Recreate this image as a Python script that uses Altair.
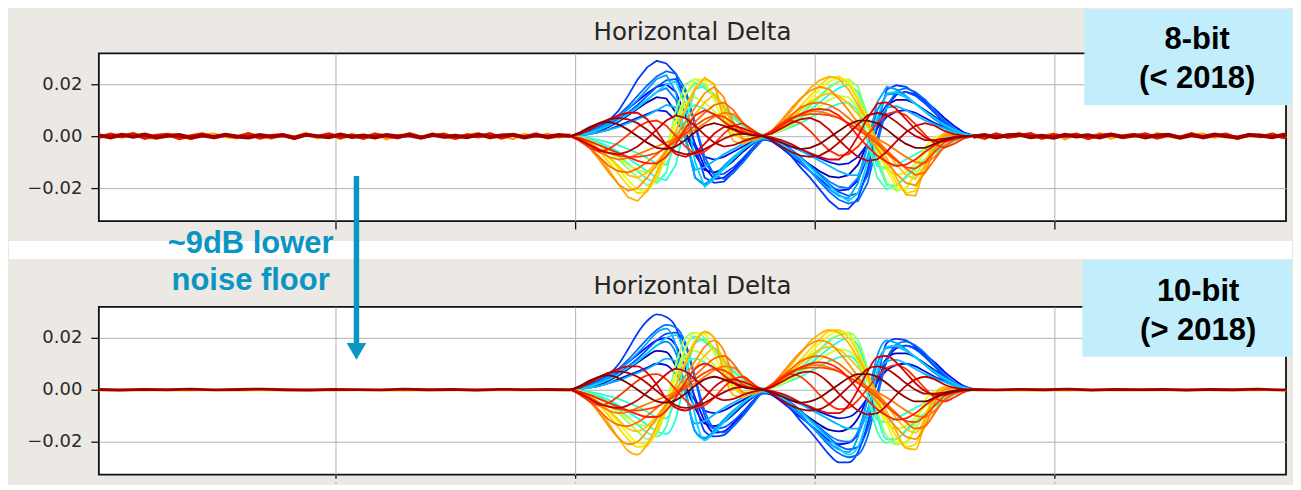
import altair as alt
import pandas as pd

# ---------------- data (trace values in units of 1e-3) ----------------
TITLE = "Horizontal Delta"
Y_TICKS = [-0.02, 0.0, 0.02]
X_TICKS = [1000, 2000, 3000, 4000]
X_DOMAIN = [12, 4966]
Y_DOMAIN = [-0.0327, 0.0319]

TRACE_X0 = 1980      # first sample of the active region
TRACE_STEP = 40      # sample spacing of the active region
LEFT_END = 1980      # quiet region before the pulse ends here
RIGHT_START = 3660   # quiet region after the pulse starts here

# traces ordered along the jet colour map (blue first, dark red last = on top)
TRACE_COLORS = ["#0000b4", "#0010e0", "#0000ff", "#0038ff", "#0054ff", "#006bff", "#0086ff",
                "#009eff", "#00b8ff", "#00d1ff", "#19ffde", "#2effc8", "#42ffb5", "#94ff63",
                "#c8ff30", "#e6ff11", "#ffd900", "#ffc400", "#ffb300", "#ff8e00", "#ff7a00",
                "#ff6800", "#ff4200", "#ff3000", "#ff1c00", "#dc0000", "#c00000", "#ae0000", "#800000"]

T01 = [0, 0.3, 1, 2, 3.5, 5.5, 8, 10.5, 13, 15, 14.5, 9, 1, -7, -13, -14, -12.5, -9.5, -6, -3, -0.5,
       -1.5, -3.5, -6, -8.5, -11, -13.5, -15.5, -16, -15, -11, -3, 6, 12, 14, 14, 12.5, 10, 7.5, 5, 2.5, 1, 0.2]
T02 = [0, 0.3, 0.8, 1.5, 2.5, 4, 5.5, 7, 8.5, 10, 9.5, 6, 1, -4, -8, -9, -8, -6, -4, -2, -0.5,
       -1, -2.5, -4, -5.5, -7, -8.5, -10, -11, -10.5, -8, -3, 3, 7.5, 9.5, 10, 9, 7, 5, 3.5, 2, 0.7, 0.1]
T03 = [0, 0.5, 1.5, 3, 5, 7.5, 10.5, 13.5, 16.5, 19, 20, 17, 8, -3, -12, -16.5, -16, -13, -9, -4.5, -1,
       -2, -4.5, -7.5, -10.5, -13.5, -16.5, -19.5, -21, -20.5, -17, -8, 3, 11.5, 16, 17, 16, 13.5, 10.5, 7, 4, 1.5, 0.3]
T04 = [0, 0.8, 2, 3.8, 6, 9.7, 15.5, 21.8, 26.5, 29, 28, 24, 12, -4, -16, -18, -17.5, -14, -10, -5.5, -1.5,
       -1.5, -4, -7.5, -12, -16, -20.5, -25, -28, -28, -24, -13, 4, 18, 19.6, 19, 16.5, 13, 9, 5, 2, 0.5, 0]
T05 = [0, 0.5, 1.5, 3, 4.5, 6.5, 9, 12, 15.5, 19, 21.5, 22, 17, 4, -10, -15, -14.5, -12, -8.5, -4.5, -1,
       -1, -2.5, -5, -8, -11.5, -15, -18.5, -21.5, -23, -22, -15, -1, 12, 16.5, 17, 15.5, 12.5, 9, 5.5, 2.5, 0.8, 0.1]
T06 = [0, 0.6, 1.8, 3.5, 5.5, 8, 11.5, 15.5, 19.5, 23, 25, 24, 18, 5, -8, -15, -16.5, -14, -10, -5.5, -1.5,
       -1, -3, -6, -9.5, -13.5, -17.5, -21.5, -24.5, -26, -25, -18, -3, 11, 17.5, 18.5, 17, 14, 10, 6, 3, 1, 0.2]
T07 = [0, 0.4, 1.2, 2.5, 4, 6, 8.5, 11, 14, 17, 18.5, 14, 0, -16, -18.5, -16, -12.5, -9, -5.5, -2.5, -0.5,
       -1.2, -3, -5.5, -8.5, -11.5, -14.5, -17.5, -19.5, -20, -16, -4, 10, 16, 16.5, 15, 12.5, 9.5, 6.5, 4, 2, 0.6, 0.1]
T08 = [0, 0.5, 1.5, 3, 5, 7.5, 10.5, 14, 18, 22, 23.5, 17, 0, -16, -19, -15.5, -11.5, -8, -5, -2.5, -0.8,
       -1.5, -3.5, -6.5, -10, -13.5, -17, -20.5, -23, -24, -18, -3, 13, 19, 18, 15.5, 12.5, 9.5, 6.5, 4, 2, 0.7, 0.1]
T09 = [0, 0.3, 0.8, 1.5, 2.5, 3.5, 5, 6.5, 8, 10, 12, 11, -2, -13, -12, -9.5, -7, -5, -3, -1.5, -0.3,
       -0.8, -2, -3.5, -5.5, -7.5, -9.5, -11.5, -13.5, -15, -15, -8, 6, 11, 11.5, 10, 8, 6, 4.5, 3, 1.5, 0.5, 0.1]
T10 = [0, 0.4, 1.2, 2.5, 4, 6, 8.5, 11, 14, 17, 20, 21, 12, -10, -19.5, -16.5, -12.5, -8.5, -5, -2.5, -0.8,
       -1.2, -3, -5.5, -8.5, -12, -15.5, -19, -22.5, -25, -22, -10, 7, 16.5, 17, 15, 12.5, 9.5, 7, 4.5, 2.5, 1, 0.2]
T11 = [0, -0.4, -1.2, -2.5, -4, -6, -8.5, -11, -13.5, -16, -17, -11, 5, 18, 19.5, 16, 11.5, 7.5, 4, 2, 0.5,
       1, 2.5, 4.5, 7, 10, 13, 16, 18.5, 20, 17, 6, -10, -19, -19, -15.5, -12, -9, -6.5, -4, -2, -0.7, -0.1]
T12 = [0, -0.3, -0.8, -1.5, -2.5, -3.5, -5, -6.5, -8.5, -10.5, -11, -3, 10, 12, 10.5, 8, 6, 4, 2.5, 1, 0.2,
       0.8, 2, 3.5, 5, 7, 9, 11, 12.5, 13, 10, -2, -11.5, -12.5, -11, -9, -7, -5, -3.5, -2, -1, -0.3, 0]
T13 = [0, -0.5, -1.5, -3, -5, -7.5, -10.5, -13.5, -16.5, -18, -14, 1, 16, 20.5, 18.5, 15, 11, 7, 4, 1.8, 0.5,
       1.2, 3, 5.5, 8.5, 12, 15.5, 19, 21, 21.5, 14, -2, -16, -20.5, -19, -16, -12.5, -9, -6, -3.5, -1.8, -0.6, -0.1]
T14 = [0, -0.6, -1.8, -3.5, -6, -9, -12.5, -16, -19, -17, -6, 10, 20, 22, 20, 15, 10, 5.5, 2.5, 0.8, 0,
       1, 2.5, 5, 8, 11.5, 15, 18.5, 21, 22, 19, 8, -8, -18, -21, -20, -15, -9, -4.5, -2, -0.8, -0.2, 0]
T15 = [0, -0.6, -1.8, -3.5, -6, -8.5, -11, -13, -14, -12, -5, 5, 13, 15, 13, 9.5, 6, 3, 1.2, 0.3, 0,
       0.8, 2.2, 4, 6.5, 9, 11.5, 14, 15.5, 15, 11, 3, -6, -13, -15, -14, -10.5, -6.5, -3.5, -1.5, -0.5, -0.1, 0]
T16 = [0, -0.8, -2.5, -5, -8.5, -12.5, -17, -20.5, -21, -15, -5, 6, 16, 22, 21.5, 14, 5, 0.5, -1, -0.5, 0,
       1.2, 3.5, 6.5, 10, 14, 18, 21, 22.5, 21.5, 15, 6, -4, -13, -20, -21, -13, -4, -0.5, 0.5, 0.3, 0, 0]
T17 = [0, -1, -3, -6, -10, -14.5, -19, -22, -21.5, -16, -8, 2, 11, 19, 22, 20, 9, 1, -1.5, -1, -0.2,
       1.5, 4, 7.5, 11.5, 15.5, 19.5, 22.5, 23, 20, 14, 6, -3, -11, -18, -22, -21, -10, -2, 0.5, 0.5, 0.2, 0]
T18 = [0, -0.8, -2.5, -5, -8, -11.5, -15, -16, -14, -10, -5.5, -1, 3.5, 8.5, 13, 16, 12, 3, -1.5, -1, -0.2,
       1.2, 3.5, 6.5, 10, 13, 15.5, 16.5, 15.5, 12.5, 8.5, 4, -1, -6, -11, -15, -16.5, -11, -3, 0.5, 0.5, 0.2, 0]
T19 = [0, -1.2, -4, -8, -13, -18.5, -23.5, -25, -21, -14, -6, 2, 10, 18, 22.5, 20, 6, -2, -3, -1.5, -0.3,
       1.5, 5, 9.5, 14, 18.5, 21.5, 23, 22, 18, 12, 5.5, -1.5, -8.5, -16, -22.5, -23, -12, -2, 1, 0.5, 0.2, 0]
T20 = [0, -1.5, -4.5, -9, -14, -18.5, -21, -20, -16, -11, -5.5, 0, 5.5, 11, 16.5, 19, 15, 5, -1, -1.5, -0.5,
       2, 6, 10.5, 14.5, 17.5, 19, 18, 14.5, 10, 5, 0, -5, -10, -14.5, -18, -19, -14, -5, 0, 0.5, 0.2, 0]
T21 = [0, -1.2, -3.5, -6, -8, -9, -8.5, -7, -5.5, -4, -2.5, -1, 0.5, 2.5, 5, 7.5, 9, 8.5, 5, 1.5, 0,
       1.5, 4, 6.5, 8.5, 9.5, 9.5, 8.5, 7, 5, 3, 1, -1, -3, -5.5, -8, -10, -10.5, -8, -4, -1.5, -0.3, 0]
T22 = [0, -1.5, -4.5, -8, -11.5, -13.5, -14, -12.5, -10, -7, -4, -1, 2, 5.5, 9, 12, 13, 10, 5, 1.5, 0,
       1.5, 4.5, 8, 11, 12.5, 13, 12, 10, 7, 4, 1, -2, -5.5, -9, -12.5, -15, -14, -9, -4, -1.5, -0.3, 0]
T23 = [0, -1, -3, -5, -6.5, -7.5, -8, -8, -7.5, -6.5, -4.5, -2, 1, 4, 6.5, 8, 7.5, 5, 2, 0.5, 0,
       2, 5, 7, 8, 8.5, 8.5, 8, 7, 5, 2.5, 0, -3, -6.5, -9.5, -12, -12.5, -10, -6, -2.5, -1, -0.3, 0]
T24 = [0, -2, -4.5, -6, -5, -2.5, 0.5, 3.5, 5.5, 6, 4, 0, -4, -7, -6, -3, 1, 4, 5, 2.5, 0,
       2, 4.5, 6, 5, 2, -2, -5.5, -7.5, -7, -4, 0.5, 5, 8.5, 9.5, 8, 4.5, 0.5, -3, -4.5, -3, -1, 0]
T25 = [0, -0.8, -2, -3.5, -5, -6.5, -8, -9.5, -10.5, -10.5, -8, -3, 3, 8, 10, 8.5, 5.5, 3, 1.5, 0.5, 0,
       1.5, 4, 6.5, 8.5, 10, 10.5, 10, 8, 4.5, 0, -4, -7.5, -10, -11.5, -11, -9, -6, -3.5, -1.5, -0.5, -0.1, 0]
T26 = [0, 0.8, 2.5, 4.5, 6.5, 8, 9, 9, 6.5, 2, -3.5, -7, -8, -6.5, -3, 1, 3.5, 4, 3, 1.5, 0.3,
       -0.5, -1.5, -3, -5, -6.5, -8, -9, -9, -6, 0, 7, 12.5, 13, 10.5, 6.5, 2.5, -0.5, -2, -2, -1, -0.3, 0]
T27 = [0, -1.5, -3.5, -5.5, -6.5, -7, -6, -4, -1, 2.5, 6, 8, 7, 4, 0.5, -2.5, -4, -3.5, -2, -0.8, 0,
       1, 3, 5, 6.5, 7, 5.5, 2.5, -1.5, -5, -8, -9.5, -9, -6, -2, 1.5, 4, 5, 4, 2, 0.8, 0.2, 0]
T28 = [0, 1, 3, 5, 6.5, 7, 6.5, 5, 2.5, -0.5, -3.5, -6, -7, -6.5, -5, -3, -1, 0.5, 1, 0.5, 0,
       -1.5, -4, -6, -7.5, -8, -7.5, -5.5, -2.5, 1, 4.5, 8, 9, 8, 5.5, 2.5, 0, -1.5, -1.5, -1, -0.4, -0.1, 0]
T29 = [0, 1.5, 3.5, 5, 5.5, 4.5, 2.5, 0, -2.5, -4.5, -5, -4, -1.5, 1.5, 4, 5, 4, 2.5, 1, 0.3, 0,
       -1, -2.5, -4, -5, -4.5, -3, -0.5, 2, 4.5, 6, 6, 5, 2.5, -0.5, -3, -4.5, -4.5, -3, -1.5, -0.5, -0.1, 0]
TRACES = [T01, T02, T03, T04, T05, T06, T07, T08, T09, T10, T11, T12, T13, T14, T15,
          T16, T17, T18, T19, T20, T21, T22, T23, T24, T25, T26, T27, T28, T29]
TRACE_NAMES = ["t%02d" % (i + 1) for i in range(len(TRACES))]

# quiet-region noise of the 8-bit capture
N8_STEP = 48
N8_ORANGE_L = [0.8, -1.0, 0.4, 1.2, -0.6, -1.1, 0.9, 0.2, -1.2, 0.6, 1.0, -0.4, -0.9, 1.1, 0.3, -1.0, 0.7, -0.2,
               1.2, -0.8, 0.5, -1.1, 0.9, -0.3, 1.0, -1.2, 0.4, 0.8, -0.7, 1.1, -0.5, -1.0, 0.6, 1.2, -0.9, 0.2,
               -1.1, 0.9, -0.4, 1.0, -0.6, 0.3]
N8_ORANGE_R = [0.5, -1.1, 0.9, -0.3, 1.2, -0.8, 0.1, 1.0, -1.2, 0.6, -0.5, 1.1, -0.9, 0.4, 0.8, -1.0, 1.2, -0.2,
               -0.9, 0.7, 1.0, -0.6, 0.3, -1.1, 0.9, -0.4, 1.1, -0.7, 0.2]
N8_RED_L = [-0.5, 0.7, -0.2, 0.9, -0.8, 0.3, 0.6, -0.9, 0.1, 0.8, -0.6, 0.4, -0.3, 0.9, -0.7, 0.2, 0.5, -0.9,
            0.6, -0.1, 0.8, -0.5, 0.3, -0.8, 0.7, 0.0, -0.6, 0.9, -0.4, 0.2, 0.7, -0.8, 0.4, -0.2, 0.9, -0.7,
            0.5, -0.3, 0.8, -0.6, 0.1, 0.4]
N8_RED_R = [0.3, -0.7, 0.8, -0.4, 0.2, 0.9, -0.8, 0.5, -0.1, 0.7, -0.9, 0.4, 0.6, -0.5, 0.1, 0.8, -0.7, 0.3,
            -0.4, 0.9, -0.6, 0.2, 0.7, -0.8, 0.5, -0.2, 0.6, -0.5, 0.3]
N8_DARK_L = [0.3, -0.4, 0.5, -0.2, 0.6, -0.5, 0.1, 0.4, -0.6, 0.2, -0.3, 0.5, -0.1, -0.5, 0.4, -0.2, 0.3, -0.6,
             0.5, 0.0, -0.4, 0.6, -0.3, 0.2, -0.5, 0.4, -0.1, 0.3, -0.6, 0.5, -0.2, 0.1, -0.4, 0.6, -0.3, 0.2,
             0.5, -0.5, 0.3, -0.2, 0.4, 0.0]
N8_DARK_R = [-0.2, 0.4, -0.5, 0.3, 0.6, -0.4, 0.1, -0.6, 0.5, -0.1, 0.3, -0.5, 0.6, -0.2, 0.4, -0.4, 0.2, 0.5,
             -0.6, 0.3, -0.3, 0.6, -0.1, -0.5, 0.4, 0.2, -0.4, 0.5, -0.2]

# quiet-region noise of the 10-bit capture
N10_STEP = 99
N10_YEL_L = [-0.3, -0.2, -0.35, -0.25, -0.3, -0.15, -0.3, -0.25, -0.35, -0.2, -0.3, -0.25, -0.3, -0.2, -0.35,
             -0.25, -0.3, -0.2, -0.3, -0.25, -0.3]
N10_YEL_R = [-0.3, -0.25, -0.35, -0.2, -0.3, -0.25, -0.35, -0.3, -0.2, -0.3, -0.25, -0.35, -0.2, -0.3, -0.25]
N10_DARK_L = [0.1, -0.1, 0.15, 0.0, 0.2, -0.05, 0.1, 0.25, 0.0, -0.1, 0.15, 0.05, -0.05, 0.2, 0.0, 0.1, -0.1,
              0.15, 0.05, 0.1, 0.0]
N10_DARK_R = [0.1, -0.05, 0.15, 0.0, 0.2, -0.1, 0.1, 0.05, 0.15, -0.1, 0.1, 0.0, 0.2, -0.05, 0.1]

# ---------------- styling ----------------
BG = "#ece9e5"
BOX = "#c2eefc"
TEAL = "#0a95c2"
W, H = 1189, 168
RIGHT = W + 6      # right end of the grey page area (stays inside the browser window)


def traces_frame():
    rows = []
    for name, vals in zip(TRACE_NAMES, TRACES):
        for i, v in enumerate(vals):
            rows.append({"x": TRACE_X0 + TRACE_STEP * i, "y": v / 1000.0, "trace": name})
    return pd.DataFrame(rows)


def noise_frame(left, right, step):
    rows = []
    n = len(left)
    for i, v in enumerate(left):
        rows.append({"x": LEFT_END - step * (n - 1 - i), "y": v / 1000.0, "seg": "L"})
    for i, v in enumerate(right):
        rows.append({"x": RIGHT_START + step * i, "y": v / 1000.0, "seg": "R"})
    return pd.DataFrame(rows)


X_SCALE = alt.Scale(domain=X_DOMAIN, nice=False, zero=False)
Y_SCALE = alt.Scale(domain=Y_DOMAIN, nice=False, zero=False)
X_AXIS = alt.Axis(values=X_TICKS, labels=False, title=None, tickSize=8, tickColor="#111",
                  tickWidth=1.3, grid=True, gridColor="#b3b3b3", gridWidth=1, domain=False)
Y_AXIS = alt.Axis(values=Y_TICKS, title=None,
                  labelExpr="replace(format(datum.value, '.2f'), '-', '\u2212')",
                  labelFont="DejaVu Sans", labelFontSize=18, labelColor="#2a2a2a", labelPadding=9,
                  tickSize=8, tickColor="#111", tickWidth=1.3, grid=True, gridColor="#b3b3b3",
                  gridWidth=1, domain=False)
ONE = pd.DataFrame({"k": [0]})


def xy():
    return dict(x=alt.X("x:Q", scale=X_SCALE, axis=X_AXIS), y=alt.Y("y:Q", scale=Y_SCALE, axis=Y_AXIS))


def traces_layer(interp):
    return alt.Chart(traces_frame()).mark_line(strokeWidth=1.8, interpolate=interp, clip=True).encode(
        color=alt.Color("trace:N", scale=alt.Scale(domain=TRACE_NAMES, range=TRACE_COLORS), legend=None),
        **xy())


def noise_layer(left, right, step, color, width):
    return alt.Chart(noise_frame(left, right, step)).mark_line(
        color=color, strokeWidth=width, clip=True).encode(detail="seg:N", **xy())


def rect(x, x2, y, y2, color):
    return alt.Chart(ONE).mark_rect(color=color, strokeWidth=0).encode(
        x=alt.value(x), x2=alt.value(x2), y=alt.value(y), y2=alt.value(y2))


def text(lines, x, y, size, color, font, weight, line_height=None):
    kw = dict(text=lines, fontSize=size, color=color, font=font, fontWeight=weight,
              align="center", baseline="alphabetic")
    if line_height:
        kw["lineHeight"] = line_height
    return alt.Chart(ONE).mark_text(**kw).encode(x=alt.value(x), y=alt.value(y))


top = alt.layer(
    rect(-90, RIGHT, H + 20, H + 38, "white"),
    noise_layer(N8_ORANGE_L, N8_ORANGE_R, N8_STEP, "#ffa000", 2.2),
    traces_layer("linear"),
    noise_layer(N8_RED_L, N8_RED_R, N8_STEP, "#e41a00", 3.4),
    noise_layer(N8_DARK_L, N8_DARK_R, N8_STEP, "#a00000", 4.0),
    rect(987, RIGHT, -44, 52, BOX),
    text(["8-bit", "(< 2018)"], 1100, -4, 31, "black", "Liberation Sans", "bold", 39),
    text(TITLE, W / 2, -13, 24.5, "#262626", "DejaVu Sans", "normal"),
).properties(width=W, height=H)

bottom = alt.layer(
    rect(-90, RIGHT, H + 4, H + 8, BG),
    noise_layer(N10_YEL_L, N10_YEL_R, N10_STEP, "#f2c418", 1.8),
    traces_layer("monotone"),
    noise_layer(N10_DARK_L, N10_DARK_R, N10_STEP, "#a00000", 2.8),
    rect(985, RIGHT, -47, 50, BOX),
    text(["10-bit", "(> 2018)"], 1101, -6, 31, "black", "Liberation Sans", "bold", 39),
    text(TITLE, W / 2, -13, 24.5, "#262626", "DejaVu Sans", "normal"),
    alt.Chart(ONE).mark_rule(color=TEAL, strokeWidth=5.5).encode(
        x=alt.value(258), y=alt.value(-131), y2=alt.value(38)),
    alt.Chart(ONE).mark_point(shape="triangle-down", size=380, filled=True, color=TEAL,
                              opacity=1, strokeWidth=0).encode(x=alt.value(258), y=alt.value(44.6)),
    text(["~9dB lower", "noise floor"], 152, -54, 31, TEAL, "Liberation Sans", "bold", 37),
).properties(width=W, height=H)

chart = alt.vconcat(top, bottom, spacing=86, bounds="flush").properties(
    background=BG, padding=0
).configure_view(stroke="#111", strokeWidth=1.8, fill="white")

chart.save("out.html", embed_options={"renderer": "svg", "actions": False})
